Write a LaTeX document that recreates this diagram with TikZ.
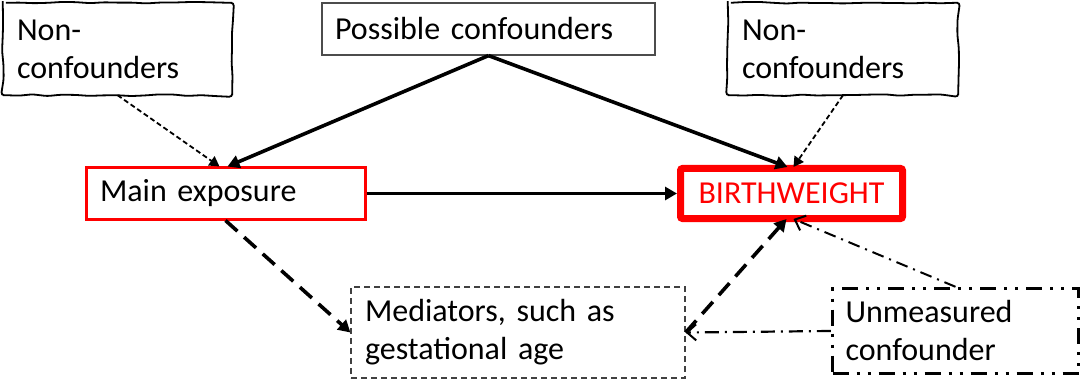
\documentclass[tikz,border=0pt]{standalone}
\usepackage{fontspec}
\setmainfont{Carlito}
\usetikzlibrary{arrows.meta,decorations.pathmorphing}
\pgfmathsetseed{7}
\begin{document}
\begin{tikzpicture}[x=1pt,y=-1pt,
  font=\fontsize{32}{38}\selectfont,
  box/.style={rectangle, inner ysep=0pt, align=left},
  wavy/.style={draw, line width=1.8pt, decorate,
    decoration={random steps, segment length=14pt, amplitude=0.9pt}, rounded corners=3pt},
  thickarr/.style={line width=3.6pt, -{Triangle[length=12pt,width=13pt]}},
  thinarr/.style={line width=1.8pt, dash pattern=on 5pt off 3pt, -{Triangle[length=10pt,width=11pt]}},
  longdash/.style={line width=3.6pt, dash pattern=on 16pt off 9pt},
  openarr/.style={-{Straight Barb[length=9pt,width=16pt,line width=2pt]}}
]
\useasboundingbox (0,0) rectangle (1086,382);

% nodes
\node[box, minimum width=229pt, minimum height=92pt, text width=201pt, inner xsep=14pt] (ncl) at (117.5,49) {Non-\\confounders};
\draw[wavy] (ncl.north west) -- (ncl.north east) -- (ncl.south east) -- (ncl.south west) -- cycle;

\node[box, minimum width=230pt, minimum height=92pt, text width=202pt, inner xsep=14pt] (ncr) at (843,49) {Non-\\confounders};
\draw[wavy] (ncr.north west) -- (ncr.north east) -- (ncr.south east) -- (ncr.south west) -- cycle;

\node[box, draw=black!70, line width=1.2pt, minimum width=333pt, minimum height=52pt, text width=307pt, inner xsep=13pt] (pc) at (488.5,29) {Possible confounders};

\node[box, draw=red, line width=3pt, minimum width=279pt, minimum height=51pt, text width=251pt, inner xsep=14pt] (me) at (225.5,193.5) {Main exposure};

\node[box, draw=red, line width=7pt, rounded corners=2pt, text=red, align=center, minimum width=222pt, minimum height=50pt] (bw) at (791.5,193.5) {BIRTHWEIGHT};

\node[box, draw=black!75, line width=1.2pt, dash pattern=on 6pt off 4pt, minimum width=334pt, minimum height=91pt, text width=306pt, inner xsep=14pt] (med) at (518,332.5) {Mediators, such as\\gestational age};

\node[box, draw, line width=3.4pt, dash pattern=on 16pt off 8pt on 3pt off 8pt on 3pt off 8pt, minimum width=246pt, minimum height=85pt, text width=220pt, inner xsep=13pt] (um) at (955.5,331) {Unmeasured\\confounder};

% connectors
\draw[thinarr] (ncl.south) -- ([xshift=-6pt]me.north);
\draw[thickarr] (pc.south) -- ([xshift=2pt]me.north);
\draw[thickarr] (pc.south) -- ([xshift=-4pt,yshift=-2pt]bw.north);
\draw[thinarr] (ncr.south) -- ([xshift=2pt,yshift=-2pt]bw.north);
\draw[thickarr] (me.east) -- (bw.west);
\draw[longdash, -{Triangle[length=12pt,width=13pt]}] (me.south) -- (med.west);
\draw[longdash, -{Triangle[length=12pt,width=13pt]}] (med.east) -- ([xshift=-5pt,yshift=3pt]bw.south);
\draw[line width=2pt, dash pattern=on 12pt off 6pt on 2pt off 6pt, openarr] (um.north) -- ([xshift=2pt,yshift=3pt]bw.south);
\draw[line width=2.2pt, dash pattern=on 14pt off 6pt on 2pt off 6pt, openarr] (um.west) -- (med.east);
\end{tikzpicture}
\end{document}
